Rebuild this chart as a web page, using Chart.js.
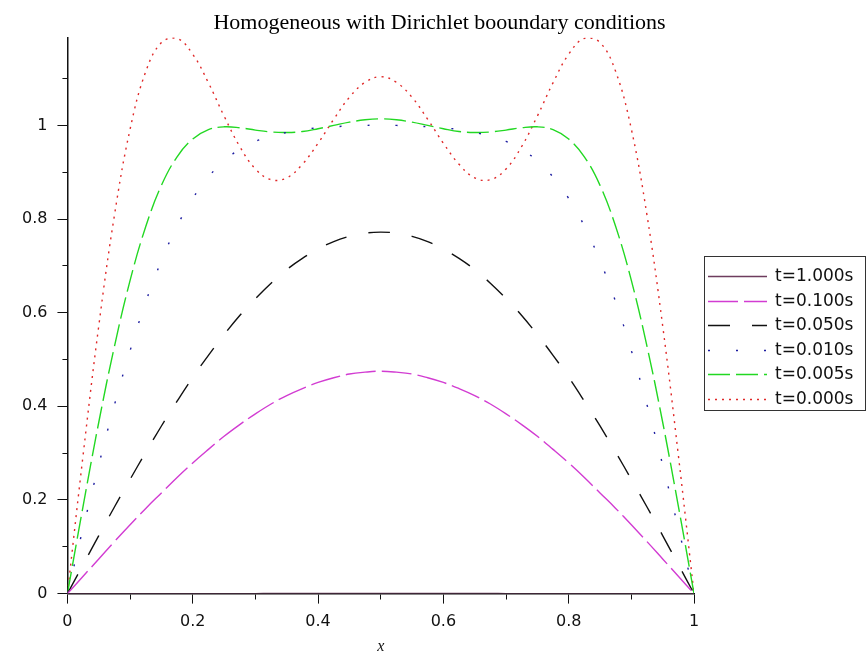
<!DOCTYPE html>
<html>
<head>
<meta charset="utf-8">
<title>Homogeneous with Dirichlet booundary conditions</title>
<script src="https://cdn.jsdelivr.net/npm/chart.js@4.4.1/dist/chart.umd.min.js"></script>
<style>
  body { margin: 0; background: #fff; }
  #wrap { width: 867px; height: 663px; }
</style>
</head>
<body>
<div id="wrap"><canvas id="heatChart" width="867" height="663"></canvas></div>
<script>
// x positions along the rod
const xs = [0, 0.025, 0.05, 0.075, 0.1, 0.125, 0.15, 0.175, 0.2, 0.225, 0.25, 0.275, 0.3, 0.325, 0.35, 0.375, 0.4,
  0.425, 0.45, 0.475, 0.5, 0.525, 0.55, 0.575, 0.6, 0.625, 0.65, 0.675, 0.7, 0.725, 0.75, 0.775, 0.8,
  0.825, 0.85, 0.875, 0.9, 0.925, 0.95, 0.975, 1];

// temperature profiles
const u1000 = [0, 0.00001, 0.00001, 0.00002, 0.00002, 0.00003, 0.00003, 0.00003, 0.00004, 0.00004, 0.00005,
  0.00005, 0.00005, 0.00006, 0.00006, 0.00006, 0.00006, 0.00006, 0.00007, 0.00007, 0.00007,
  0.00007, 0.00007, 0.00006, 0.00006, 0.00006, 0.00006, 0.00006, 0.00005, 0.00005, 0.00005,
  0.00004, 0.00004, 0.00003, 0.00003, 0.00003, 0.00002, 0.00002, 0.00001, 0.00001, 0];
const u0100 = [0, 0.037, 0.074, 0.111, 0.147, 0.182, 0.215, 0.248, 0.279, 0.308, 0.336, 0.361, 0.384, 0.405,
  0.423, 0.438, 0.451, 0.461, 0.469, 0.473, 0.475, 0.473, 0.469, 0.461, 0.451, 0.438, 0.423, 0.405,
  0.384, 0.361, 0.336, 0.308, 0.279, 0.248, 0.215, 0.182, 0.147, 0.111, 0.074, 0.037, 0];
const u0050 = [0, 0.062, 0.124, 0.185, 0.244, 0.302, 0.358, 0.411, 0.462, 0.509, 0.553, 0.594, 0.630, 0.663,
  0.692, 0.716, 0.736, 0.752, 0.763, 0.770, 0.772, 0.770, 0.763, 0.752, 0.736, 0.716, 0.692, 0.663,
  0.630, 0.594, 0.553, 0.509, 0.462, 0.411, 0.358, 0.302, 0.244, 0.185, 0.124, 0.062, 0];
const u0010 = [0, 0.140, 0.275, 0.403, 0.519, 0.623, 0.711, 0.785, 0.844, 0.890, 0.924, 0.949, 0.966, 0.977,
  0.985, 0.991, 0.995, 0.997, 0.999, 1.000, 1.001, 1.000, 0.999, 0.997, 0.995, 0.991, 0.985, 0.977,
  0.966, 0.949, 0.924, 0.890, 0.844, 0.785, 0.711, 0.623, 0.519, 0.403, 0.275, 0.140, 0];
const u0005 = [0, 0.187, 0.366, 0.528, 0.669, 0.784, 0.872, 0.933, 0.971, 0.991, 0.997, 0.995, 0.990, 0.986,
  0.985, 0.987, 0.993, 1.000, 1.007, 1.012, 1.014, 1.012, 1.007, 1.000, 0.993, 0.987, 0.985, 0.986,
  0.990, 0.995, 0.997, 0.991, 0.971, 0.933, 0.872, 0.784, 0.669, 0.528, 0.366, 0.187, 0];
const u0000 = [0, 0.296, 0.572, 0.808, 0.992, 1.115, 1.177, 1.186, 1.152, 1.091, 1.020, 0.955, 0.907, 0.884,
  0.888, 0.917, 0.962, 1.013, 1.060, 1.092, 1.104, 1.092, 1.060, 1.013, 0.962, 0.917, 0.888, 0.884,
  0.907, 0.955, 1.020, 1.091, 1.152, 1.186, 1.177, 1.115, 0.992, 0.808, 0.572, 0.296, 0];

const seriesNames = ["t=1.000s", "t=0.100s", "t=0.050s", "t=0.010s", "t=0.005s", "t=0.000s"];

// 0.1 steps on both axes, labels only every 0.2
function isMajor(v) {
  return Math.round(v * 10) % 2 === 0;
}
function tickText(v) {
  const k = Math.round(v * 10);
  return k % 2 === 0 ? String(k / 10) : "";
}

function points(ys) {
  return xs.map((x, i) => ({ x: x, y: ys[i] }));
}

function line(label, ys, color, dash) {
  return {
    label: label,
    data: points(ys),
    borderColor: color,
    backgroundColor: color,
    borderWidth: 1.4,
    borderDash: dash,
    pointRadius: 0,
    tension: 0.4,
    fill: false,
  };
}

// maple style legend: framed box to the right of the plot
const legendBox = { left: 704, top: 256, width: 161, height: 154, firstRow: 276, rowGap: 24.6, lineLen: 59 };

const boxedLegend = {
  id: "boxedLegend",
  afterDraw(chart) {
    const ctx = chart.ctx;
    const b = legendBox;
    ctx.save();
    ctx.strokeStyle = "#333";
    ctx.lineWidth = 1;
    ctx.setLineDash([]);
    ctx.strokeRect(b.left + 0.5, b.top + 0.5, b.width, b.height);
    ctx.font = "17px 'DejaVu Sans'";
    ctx.textBaseline = "middle";
    ctx.fillStyle = "#111";
    chart.data.datasets.forEach((ds, i) => {
      const y = Math.round(b.firstRow + i * b.rowGap) + 0.5;
      ctx.strokeStyle = ds.borderColor;
      ctx.lineWidth = ds.borderWidth;
      ctx.setLineDash(ds.borderDash || []);
      ctx.beginPath();
      ctx.moveTo(b.left + 4, y);
      ctx.lineTo(b.left + 4 + b.lineLen, y);
      ctx.stroke();
      ctx.fillText(ds.label, b.left + 71, y);
    });
    ctx.restore();
  },
};

const tickFont = { family: "DejaVu Sans", size: 16 };

const ctx = document.getElementById("heatChart").getContext("2d");
const heatChart = new Chart(ctx, {
  type: "line",
  data: {
    datasets: [
      line(seriesNames[0], u1000, "#6e3c5e", []),
      line(seriesNames[1], u0100, "#d23cd2", [30, 6]),
      line(seriesNames[2], u0050, "#111111", [22, 22]),
      line(seriesNames[3], u0010, "#1c1ca0", [2, 26]),
      line(seriesNames[4], u0005, "#22d822", [22, 6]),
      line(seriesNames[5], u0000, "#e02828", [2, 5]),
    ],
  },
  options: {
    responsive: false,
    animation: false,
    devicePixelRatio: 1,
    layout: {
      padding: { left: 12, right: 0, top: 0, bottom: 11 },
    },
    scales: {
      x: {
        type: "linear",
        min: 0,
        max: 1,
        grid: {
          drawOnChartArea: false,
          tickLength: 10,
          color: "#111",
          tickColor: "#111",
          tickBorderDash: (c) => (isMajor(c.tick.value) ? [] : [5, 5]),
        },
        border: { color: "#111", width: 1.5 },
        ticks: {
          stepSize: 0.1,
          autoSkip: false,
          maxRotation: 0,
          padding: 9,
          color: "#111",
          font: tickFont,
          callback: tickText,
        },
        title: {
          display: true,
          text: "x",
          color: "#111",
          font: { family: "Liberation Serif", size: 16, style: "italic", lineHeight: 0.7 },
          padding: { top: 0, bottom: 0 },
        },
      },
      y: {
        type: "linear",
        min: 0,
        max: 1.188,
        grid: {
          drawOnChartArea: false,
          tickLength: 10,
          color: "#111",
          tickColor: "#111",
          tickBorderDash: (c) => (isMajor(c.tick.value) ? [] : [0, 5, 5, 0]),
        },
        border: { color: "#111", width: 1.5 },
        ticks: {
          stepSize: 0.1,
          includeBounds: false,
          autoSkip: false,
          padding: 10,
          color: "#111",
          font: tickFont,
          callback: tickText,
        },
      },
      // empty strip on the right that holds the legend box
      gap: {
        type: "linear",
        position: "right",
        grid: { display: false },
        border: { display: false },
        ticks: { display: false },
        afterFit: (scale) => {
          scale.width = 173;
        },
      },
    },
    plugins: {
      title: {
        display: true,
        text: "Homogeneous with Dirichlet booundary conditions",
        color: "#000",
        font: { family: "Liberation Serif", size: 22, weight: "normal" },
        padding: { top: 10, bottom: 1 },
      },
      legend: { display: false },
      tooltip: { enabled: false },
    },
  },
  plugins: [boxedLegend],
});
</script>
</body>
</html>
